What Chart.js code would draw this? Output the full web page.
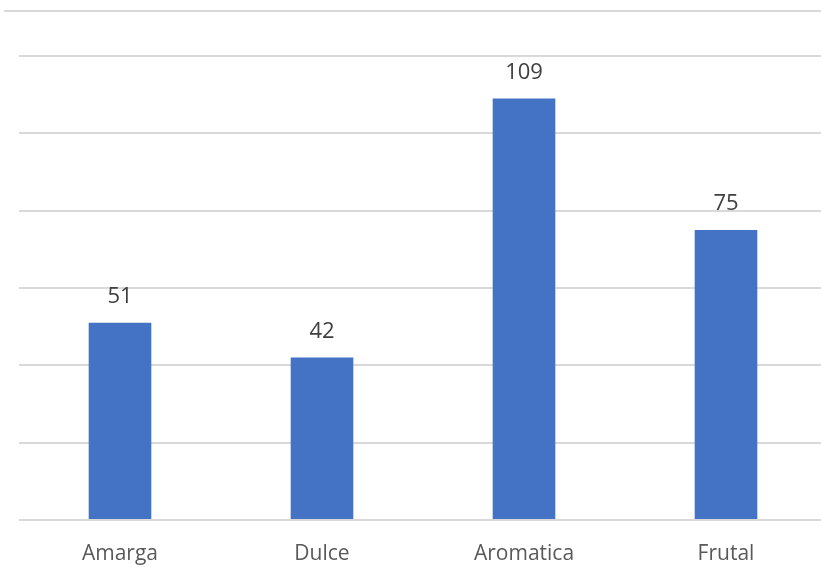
<!DOCTYPE html>
<html><head><meta charset="utf-8">
<script src="https://cdn.jsdelivr.net/npm/chart.js@4"></script>
<style>
html,body{margin:0;padding:0;background:#fff;overflow:hidden;width:821px;height:567px}
#wrap{position:absolute;left:0;top:0;width:840px;height:567px}
</style></head><body>
<div id="wrap"><canvas id="c" width="840" height="567"></canvas></div>
<script>
const categories = ["Amarga", "Dulce", "Aromatica", "Frutal"];
const values = [51, 42, 109, 75];
const yTicks = [0, 20, 40, 60, 80, 100, 120];

const valueLabels = {
  id: 'valueLabels',
  afterDatasetsDraw(chart) {
    const ctx = chart.ctx;
    const meta = chart.getDatasetMeta(0);
    ctx.save();
    ctx.fillStyle = '#404040';
    ctx.font = '22px "Open Sans", sans-serif';
    ctx.textAlign = 'center';
    ctx.textBaseline = 'alphabetic';
    meta.data.forEach((bar, i) => {
      ctx.fillText(String(values[i]), bar.x, bar.y - 20);
    });
    ctx.restore();
  }
};
const frameLine = {
  id: 'frameLine',
  beforeDraw(chart) {
    const ctx = chart.ctx;
    ctx.save();
    ctx.strokeStyle = '#d9d9d9';
    ctx.lineWidth = 2;
    ctx.beginPath();
    ctx.moveTo(4, 11);
    ctx.lineTo(chart.width, 11);
    ctx.stroke();
    ctx.restore();
  }
};

new Chart(document.getElementById('c'), {
  type: 'bar',
  data: {
    labels: categories,
    datasets: [{ data: values, backgroundColor: '#4472C4', barPercentage: 0.31, categoryPercentage: 1 }]
  },
  options: {
    responsive: false,
    animation: false,
    layout: { padding: { left: 19, right: 13, top: 56, bottom: 0 } },
    plugins: { legend: { display: false }, tooltip: { enabled: false } },
    scales: {
      x: {
        grid: { display: false, drawTicks: false },
        border: { display: false },
        ticks: { color: '#595959', font: { family: '"Open Sans", sans-serif', size: 21 }, padding: 21 },
        afterFit: s => { s.height = 47; }
      },
      y: {
        min: 0, max: 120,
        afterBuildTicks: s => { s.ticks = yTicks.map(v => ({ value: v })); },
        ticks: { display: false },
        grid: { color: '#d9d9d9', lineWidth: 2, drawTicks: false },
        border: { display: false },
        afterFit: s => { s.width = 0; }
      }
    }
  },
  plugins: [valueLabels, frameLine]
});
</script>
</body></html>
